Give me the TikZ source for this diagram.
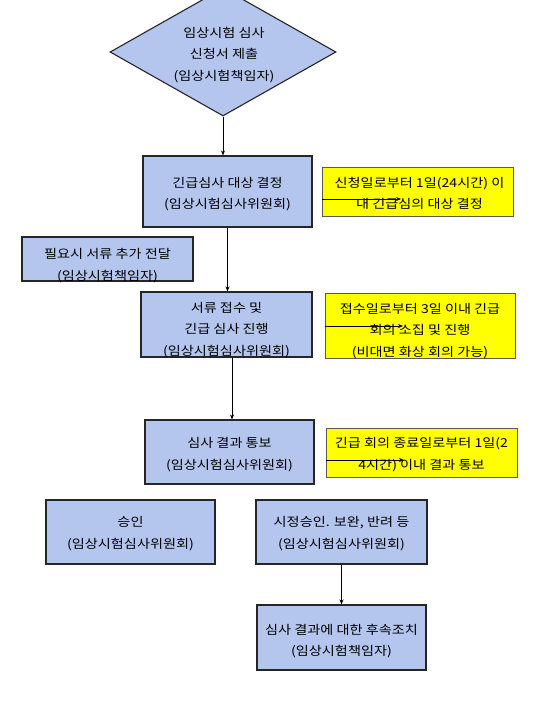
\documentclass[tikz,border=0pt]{standalone}
\usepackage{fontspec}
\setmainfont[FakeStretch=1.15]{Noto Sans CJK KR}
\usetikzlibrary{shapes.geometric,arrows.meta}
\definecolor{boxblue}{RGB}{180,198,238}
\definecolor{noteyellow}{RGB}{255,255,0}
\tikzset{
  txt/.style={font=\fontsize{12.3}{21.5}\selectfont, align=center, inner sep=0pt, text=black},
  bluebox/.style={draw=black!85, line width=1.1pt, fill=boxblue, inner sep=0pt},
  notebox/.style={draw=black!65, line width=1pt, fill=noteyellow, inner sep=0pt},
  conn/.style={line width=0.9pt, -{Stealth[length=5pt,width=4pt]}},
}
\begin{document}
\begin{tikzpicture}[x=1pt,y=-1pt]
\useasboundingbox[fill=white] (0,0) rectangle (537,704);
% decision
\node[shape=diamond, draw=black!85, line width=1.1pt, fill=boxblue, inner sep=0pt, minimum width=226pt, minimum height=128pt] (d) at (223,52) {};
\node[txt] (dt) at ([xshift=1pt,yshift=-3pt]d.center) {임상시험 심사\\신청서 제출\\(임상시험책임자)};
% main boxes
\node[bluebox, minimum width=169pt, minimum height=71pt] (b1) at (227.5,191.5) {};
\node[txt] (b1t) at ([yshift=-2.5pt]b1.center) {긴급심사 대상 결정\\(임상시험심사위원회)};
\node[bluebox, minimum width=171pt, minimum height=44pt] (b0) at (107.5,259) {};
\node[txt] (b0t) at ([yshift=-6.5pt]b0.center) {필요시 서류 추가 전달\\(임상시험책임자)};
\node[bluebox, minimum width=171pt, minimum height=65pt] (b2) at (226.5,324.5) {};
\node[txt] (b2t) at ([yshift=-5.5pt]b2.center) {서류 접수 및\\긴급 심사 진행\\(임상시험심사위원회)};
\node[bluebox, minimum width=169pt, minimum height=64pt] (b3) at (229.5,452) {};
\node[txt] (b3t) at ([yshift=-2.5pt]b3.center) {심사 결과 통보\\(임상시험심사위원회)};
\node[bluebox, minimum width=169pt, minimum height=64pt] (b4) at (130.5,532) {};
\node[txt] (b4t) at ([yshift=-1.5pt]b4.center) {승인\\(임상시험심사위원회)};
\node[bluebox, minimum width=171pt, minimum height=64pt] (b5) at (341.5,532) {};
\node[txt] (b5t) at ([yshift=-1.5pt]b5.center) {시정승인. 보완, 반려 등\\(임상시험심사위원회)};
\node[bluebox, minimum width=169pt, minimum height=65pt] (b6) at (341.5,637.5) {};
\node[txt] (b6t) at ([yshift=-3.5pt]b6.center) {심사 결과에 대한 후속조치\\(임상시험책임자)};
% notes
\node[notebox, minimum width=191pt, minimum height=49pt] (y1) at (417.5,191.5) {};
\node[txt] (y1t) at ([xshift=2pt,yshift=-2pt]y1.center) {신청일로부터 1일(24시간) 이\\내 긴급심의 대상 결정};
\node[notebox, minimum width=190pt, minimum height=65pt] (y2) at (420,325.5) {};
\node[txt] (y2t) at ([yshift=-5.5pt]y2.center) {접수일로부터 3일 이내 긴급\\회의 소집 및 진행\\(비대면 화상 회의 가능)};
\node[notebox, minimum width=191pt, minimum height=49pt] (y3) at (421.5,452.5) {};
\node[txt] (y3t) at ([yshift=-2pt]y3.center) {긴급 회의 종료일로부터 1일(2\\4시간) 이내 결과 통보};
% connectors
\draw[conn] (d.south) -- (d.south |- b1.north);
\draw[conn] (b1.south) -- (b1.south |- b2.north);
\draw[conn] ([xshift=5.5pt]b2.south) -- ([xshift=5.5pt]b2.south |- b3.north);
\draw[conn] (b5.south) -- (b5.south |- b6.north);
% arrows inside notes
\coordinate (a1) at (401,199);
\coordinate (a2) at (403,326);
\coordinate (a3) at (404,460);
\draw[conn] (y1.west |- a1) -- (a1);
\draw[conn] (y2.west |- a2) -- (a2);
\draw[conn] (y3.west |- a3) -- (a3);
\end{tikzpicture}
\end{document}
